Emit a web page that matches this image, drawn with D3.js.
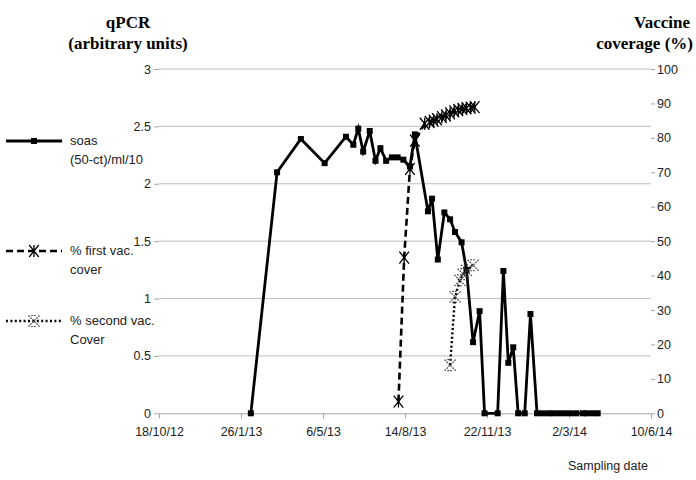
<!DOCTYPE html>
<html><head><meta charset="utf-8">
<script src="https://cdn.jsdelivr.net/npm/d3@7"></script>
<style>body{margin:0;background:#fff}svg{display:block}</style>
</head><body><svg id="c" width="696" height="480"></svg>
<script>
const xTickLabels = ["18/10/12","26/1/13","6/5/13","14/8/13","22/11/13","2/3/14","10/6/14"];
const leftTicks = [0,0.5,1,1.5,2,2.5,3];
const rightTicks = [0,10,20,30,40,50,60,70,80,90,100];

const soasDates = ["2013-02-07","2013-03-11","2013-04-09","2013-05-08","2013-06-03","2013-06-12","2013-06-18","2013-06-24","2013-07-02","2013-07-09","2013-07-15","2013-07-22","2013-07-29","2013-08-05","2013-08-12","2013-08-20","2013-08-26","2013-09-11","2013-09-16","2013-09-23","2013-10-01","2013-10-08","2013-10-14","2013-10-22","2013-10-28","2013-11-05","2013-11-13","2013-11-19","2013-12-05","2013-12-12","2013-12-18","2013-12-24","2013-12-30","2014-01-07","2014-01-14","2014-01-22","2014-01-29","2014-02-05","2014-02-11","2014-02-18","2014-02-25","2014-03-04","2014-03-11","2014-03-19","2014-03-24","2014-03-31","2014-04-06"];
const soasValues = [0,2.10,2.39,2.18,2.41,2.34,2.48,2.28,2.46,2.20,2.31,2.20,2.23,2.23,2.21,2.15,2.43,1.76,1.87,1.34,1.75,1.69,1.58,1.49,1.25,0.62,0.89,0,0,1.24,0.44,0.575,0,0,0.865,0,0,0,0,0,0,0,0,0,0,0,0];

const firstVacDates = ["2013-08-06","2013-08-13","2013-08-20","2013-08-26","2013-09-07","2013-09-13","2013-09-18","2013-09-22","2013-09-28","2013-10-03","2013-10-08","2013-10-13","2013-10-18","2013-10-23","2013-10-28","2013-11-02","2013-11-07"];
const firstVacValues = [3.4,45.2,71,79.2,84.1,84.6,85.0,85.4,86.0,86.5,87.1,87.7,88.1,88.4,88.6,88.8,88.9];

const secondVacDates = ["2013-10-08","2013-10-14","2013-10-20","2013-10-24","2013-10-28","2013-11-05"];
const secondVacValues = [14.0,33.8,38.6,40.4,41.5,43.0];

const svg = d3.select("#c");
const parseISO = d3.utcParse("%Y-%m-%d");
const parseTick = d3.utcParse("%d/%m/%y");
const tickDates = xTickLabels.map(parseTick);

const x = d3.scaleUtc().domain([tickDates[0], tickDates[tickDates.length-1]]).range([159, 651]);
const yL = d3.scaleLinear().domain([0,3]).range([413.3, 69]);
const yR = d3.scaleLinear().domain([0,100]).range([413.3, 69]);

const sans = "'Liberation Sans', Arial, sans-serif";
const serif = "'Liberation Serif', 'Times New Roman', serif";

// gridlines
svg.append("g").selectAll("line").data(leftTicks.filter(d=>d>0)).join("line")
  .attr("x1", x.range()[0]).attr("x2", x.range()[1])
  .attr("y1", d=>yL(d)).attr("y2", d=>yL(d))
  .attr("stroke", "#bfbfbf").attr("stroke-width", 1);

// x axis
const xAxis = d3.axisBottom(x).tickValues(tickDates).tickSize(5).tickSizeOuter(0)
  .tickFormat((d,i)=>xTickLabels[i]);
const gx = svg.append("g").attr("transform", `translate(0,${yL(0)})`).call(xAxis);
gx.select(".domain").attr("stroke", "#a6a6a6");
gx.selectAll(".tick line").attr("stroke", "#a6a6a6");
gx.selectAll(".tick text").attr("font-family", sans).attr("font-size", 12.5).attr("fill", "#222").attr("dy", "1.2em");

// left axis
const gl = svg.append("g").attr("transform", `translate(${x.range()[0]},0)`)
  .call(d3.axisLeft(yL).tickValues(leftTicks).tickSize(5).tickFormat(d3.format("")));
gl.select(".domain").remove();
gl.selectAll(".tick line").attr("stroke", "#a6a6a6");
gl.selectAll(".tick text").attr("font-family", sans).attr("font-size", 12.5).attr("fill", "#222").attr("x", -8);

// right axis
const gr = svg.append("g").attr("transform", `translate(${x.range()[1]},0)`)
  .call(d3.axisRight(yR).tickValues(rightTicks).tickSize(4));
gr.select(".domain").remove();
gr.selectAll(".tick line").attr("stroke", "#a6a6a6");
gr.selectAll(".tick text").attr("font-family", sans).attr("font-size", 12.5).attr("fill", "#222").attr("x", 6);

// series
const soas = soasDates.map((d,i)=>({date: parseISO(d), v: soasValues[i]}));
const first = firstVacDates.map((d,i)=>({date: parseISO(d), v: firstVacValues[i]}));
const second = secondVacDates.map((d,i)=>({date: parseISO(d), v: secondVacValues[i]}));

const lineL = d3.line().x(d=>x(d.date)).y(d=>yL(d.v));
const lineR = d3.line().x(d=>x(d.date)).y(d=>yR(d.v));

svg.append("path").datum(soas).attr("d", lineL).attr("fill","none")
  .attr("stroke","#000").attr("stroke-width",2.8).attr("stroke-linejoin","miter");
svg.append("g").selectAll("rect").data(soas).join("rect")
  .attr("x", d=>x(d.date)-3).attr("y", d=>yL(d.v)-3).attr("width",6).attr("height",6).attr("fill","#000");

function asterisk(g, cx, cy, s, color, w, dash) {
  const p = `M${cx-s*0.8},${cy-s}L${cx+s*0.8},${cy+s}M${cx+s*0.8},${cy-s}L${cx-s*0.8},${cy+s}M${cx},${cy-s}L${cx},${cy+s}`;
  g.append("path").attr("d", p).attr("stroke", color).attr("stroke-width", w).attr("fill","none")
    .attr("stroke-dasharray", dash || null);
}
function xmark(g, cx, cy, s, color, w) {
  const p = `M${cx-s},${cy-s}L${cx+s},${cy+s}M${cx+s},${cy-s}L${cx-s},${cy+s}M${cx-s*0.5},${cy-s}L${cx+s*0.5},${cy-s}M${cx-s*0.5},${cy+s}L${cx+s*0.5},${cy+s}`;
  g.append("path").attr("d", p).attr("stroke", color).attr("stroke-width", w).attr("fill","none")
    .attr("stroke-dasharray","1.6,1.2");
}

svg.append("path").datum(first).attr("d", lineR).attr("fill","none")
  .attr("stroke","#000").attr("stroke-width",2.6).attr("stroke-dasharray","7,4");
const gf = svg.append("g");
first.forEach(d=>asterisk(gf, x(d.date), yR(d.v), 6, "#000", 1.3));

svg.append("path").datum(second).attr("d", lineR).attr("fill","none")
  .attr("stroke","#000").attr("stroke-width",2.4).attr("stroke-dasharray","2,2.4");
const gs = svg.append("g");
second.forEach(d=>xmark(gs, x(d.date), yR(d.v), 5.5, "#333", 1.2));

// titles
svg.append("text").attr("x",128).attr("y",28).attr("text-anchor","middle")
  .attr("font-family",serif).attr("font-weight","bold").attr("font-size",17).text("qPCR");
svg.append("text").attr("x",128).attr("y",49).attr("text-anchor","middle")
  .attr("font-family",serif).attr("font-weight","bold").attr("font-size",17).text("(arbitrary units)");
svg.append("text").attr("x",662).attr("y",28).attr("text-anchor","middle")
  .attr("font-family",serif).attr("font-weight","bold").attr("font-size",17).text("Vaccine");
svg.append("text").attr("x",693).attr("y",49).attr("text-anchor","end")
  .attr("font-family",serif).attr("font-weight","bold").attr("font-size",17).text("coverage (%)");

svg.append("text").attr("x",608).attr("y",470).attr("text-anchor","middle")
  .attr("font-family",sans).attr("font-size",12.5).attr("fill","#222").text("Sampling date");

// legend
const lg = svg.append("g");
const legendItems = [
  {y:145, lines:["soas","(50-ct)/ml/10"], type:"soas"},
  {y:255, lines:["% first vac.","cover"], type:"first"},
  {y:325, lines:["% second vac.","Cover"], type:"second"}
];
legendItems.forEach(it=>{
  const ly = it.y - 4;
  const l = lg.append("line").attr("x1",6).attr("x2",62).attr("y1",ly).attr("y2",ly).attr("stroke","#000");
  if (it.type==="soas") {
    l.attr("stroke-width",2.8);
    lg.append("rect").attr("x",34-3).attr("y",ly-3).attr("width",6).attr("height",6).attr("fill","#000");
  } else if (it.type==="first") {
    l.attr("stroke-width",2.6).attr("stroke-dasharray","7,4");
    asterisk(lg, 34, ly, 6, "#000", 1.3);
  } else {
    l.attr("stroke-width",2.4).attr("stroke-dasharray","2,2.4");
    xmark(lg, 34, ly, 5.5, "#333", 1.2);
  }
  it.lines.forEach((t,j)=>{
    lg.append("text").attr("x",70).attr("y",it.y + j*19).attr("font-family",sans)
      .attr("font-size",13).attr("fill","#222").text(t);
  });
});
</script></body></html>
